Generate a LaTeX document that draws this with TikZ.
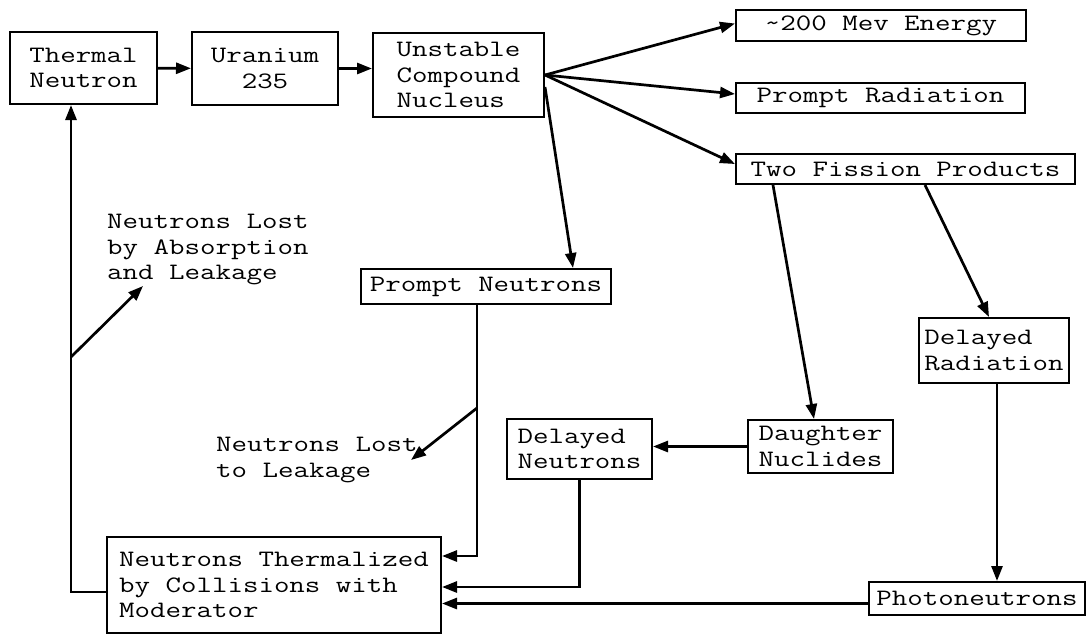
\documentclass[tikz,border=0pt]{standalone}
\usepackage{fontspec}
\usepackage{graphicx}
\usetikzlibrary{arrows.meta}
% widened typewriter text, Courier-like proportions
\newcommand\mono[1]{\scalebox{1.28}[1]{#1}}

\begin{document}
\begin{tikzpicture}[x=1pt,y=-1pt,
  txt/.style={font=\ttfamily\fontsize{23.5}{25.5}\selectfont},
  box/.style={txt, draw, line width=2pt, inner sep=0pt, align=left},
  lbl/.style={txt, inner sep=0pt, align=left},
  ln/.style={line width=2.7pt},
  arr/.style={ln, -{Triangle[length=15pt,width=11pt]}}]
\useasboundingbox (0,0) rectangle (1087,635);

% chain of the fission process
\node[box, minimum width=147pt, minimum height=72pt] (thermal) at (83.5,68) {\mono{Thermal}\\\mono{Neutron}};
\node[box, align=center, minimum width=146pt, minimum height=73pt] (uranium) at (265,68.5) {\mono{Uranium}\\\mono{235}};
\node[box, minimum width=171pt, minimum height=84pt] (unstable) at (458.5,75) {\mono{Unstable}\\\mono{Compound}\\\mono{Nucleus}};

\node[box, minimum width=290pt, minimum height=31pt] (energy) at (881,25.5) {\mono{\textasciitilde200 Mev Energy}};
\node[box, minimum width=289pt, minimum height=30pt] (promptrad) at (880.5,98) {\mono{Prompt Radiation}};
\node[box, minimum width=339pt, minimum height=30pt] (twofission) at (905.5,169) {\mono{Two Fission Products}};

\node[box, minimum width=250pt, minimum height=35pt] (promptneut) at (486,286.5) {\mono{Prompt Neutrons}};
\node[box, minimum width=150pt, minimum height=65pt] (delrad) at (994,350.5) {\mono{Delayed}\\\mono{Radiation}};
\node[box, minimum width=145pt, minimum height=53pt] (daughter) at (820.5,446.5) {\mono{Daughter}\\\mono{Nuclides}};
\node[box, minimum width=145pt, minimum height=60pt] (delneut) at (579.5,449) {\mono{Delayed}\\\mono{Neutrons}};
\node[box, minimum width=334pt, minimum height=96pt] (thermalized) at (274,585) {\mono{Neutrons Thermalized}\\\mono{by Collisions with}\\\mono{Moderator}};
\node[box, minimum width=216pt, minimum height=33pt] (photo) at (977,598.5) {\mono{Photoneutrons}};

% loss labels
\node[lbl, anchor=north west] (lostabs) at (107,214) {\mono{Neutrons Lost}\\\mono{by Absorption}\\\mono{and Leakage}};
\node[lbl, anchor=north west] (lostleak) at (216,437) {\mono{Neutrons Lost}\\\mono{to Leakage}};

% connectors
\draw[arr] (thermal) -- (uranium);
\draw[arr] (uranium.east) -- (uranium.east -| unstable.west);

\draw[arr] (unstable.east) -- ([yshift=2pt]energy.west);
\draw[arr] (unstable.east) -- ([yshift=4pt]promptrad.west);
\draw[arr] (unstable.east) -- ([yshift=5pt]twofission.west);
\draw[arr] ([yshift=-12pt]unstable.east) -- ([xshift=87pt]promptneut.north);

\draw[arr] ([xshift=-132.5pt]twofission.south) -- ([xshift=-6.5pt]daughter.north);
\draw[arr] ([xshift=19.5pt]twofission.south) -- ([xshift=-5pt]delrad.north);
\draw[arr] ([xshift=3pt]delrad.south) -- ([xshift=3pt]delrad.south |- photo.north);
\draw[arr] (daughter.west) -- (daughter.west -| delneut.east);

\draw[arr] ([xshift=-9pt]promptneut.south) |- ([yshift=29pt]thermalized.east);
\draw[arr] (delneut.south) |- ([yshift=-2pt]thermalized.east);
\draw[arr] ([yshift=-5pt]photo.west) -- ([yshift=-5pt]photo.west -| thermalized.east);
\draw[arr] ([yshift=-7pt]thermalized.west) -| ([xshift=-12.5pt]thermal.south);

% neutron losses
\coordinate (pnjoin) at (477,408);
\coordinate (leaktip) at (411,460);
\draw[arr] (pnjoin) -- (leaktip);
\coordinate (tnjoin) at (71,357);
\coordinate (abstip) at (143,286);
\draw[arr] (tnjoin) -- (abstip);
\end{tikzpicture}
\end{document}
